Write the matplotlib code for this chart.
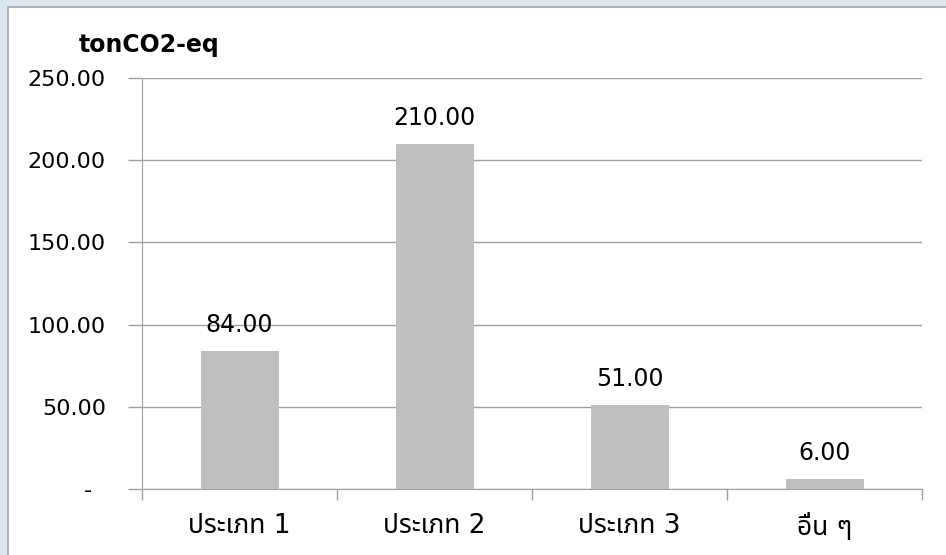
import matplotlib
matplotlib.use("Agg")
import matplotlib.pyplot as plt
from matplotlib.patches import Rectangle

categories = ["ประเภท 1", "ประเภท 2", "ประเภท 3", "อื่น ๆ"]
values = [84.00, 210.00, 51.00, 6.00]
y_ticks = [0, 50, 100, 150, 200, 250]
y_tick_labels = ["-  ", "50.00", "100.00", "150.00", "200.00", "250.00"]
unit_label = "tonCO2-eq"

plt.rcParams["font.family"] = ["DejaVu Sans", "Noto Sans Thai", "Tlwg Typo",
                               "Loma", "Garuda", "Norasi", "Noto Sans"]
plt.rcParams["font.size"] = 16

fig = plt.figure(figsize=(9.46, 5.55), dpi=100)
fig.patch.set_facecolor("#dce6f2")

# White chart panel with a grey border, behind the axes
fig.patches.append(Rectangle((8 / 946, -0.05), 1.0, 1.05 - 7 / 555,
                             transform=fig.transFigure, facecolor="white",
                             edgecolor="#a6a6a6", linewidth=1.2, zorder=-10))

ax = fig.add_axes([142 / 946, 1 - 489 / 555, 780 / 946, 411 / 555])
ax.set_facecolor("none")

x = range(len(categories))
bars = ax.bar(x, values, width=0.4, color="#bfbfbf", zorder=2)
ax.bar_label(bars, labels=[f"{v:.2f}" for v in values], padding=10, fontsize=17)

ax.set_xlim(-0.5, len(categories) - 0.5)
ax.set_ylim(0, 250)
ax.set_yticks(y_ticks)
ax.set_yticklabels(y_tick_labels)
ax.set_xticks(list(x))
ax.set_xticklabels(categories, fontsize=19)
ax.set_xticks([i - 0.5 for i in range(len(categories) + 1)], minor=True)

ax.grid(axis="y", color="#a0a0a0", linewidth=1, zorder=1)
for s in ["top", "right"]:
    ax.spines[s].set_visible(False)
for s in ["left", "bottom"]:
    ax.spines[s].set_color("#a0a0a0")

ax.tick_params(axis="y", length=10, width=1, color="#a0a0a0", pad=16)
ax.tick_params(axis="x", which="major", length=0, pad=17)
ax.tick_params(axis="x", which="minor", length=8, width=1, color="#a0a0a0")

fig.text(149 / 946, 1 - 45 / 555, unit_label, ha="center", va="center",
         fontweight="bold", fontsize=17)

fig.savefig("out.png", dpi=100, facecolor=fig.get_facecolor())
